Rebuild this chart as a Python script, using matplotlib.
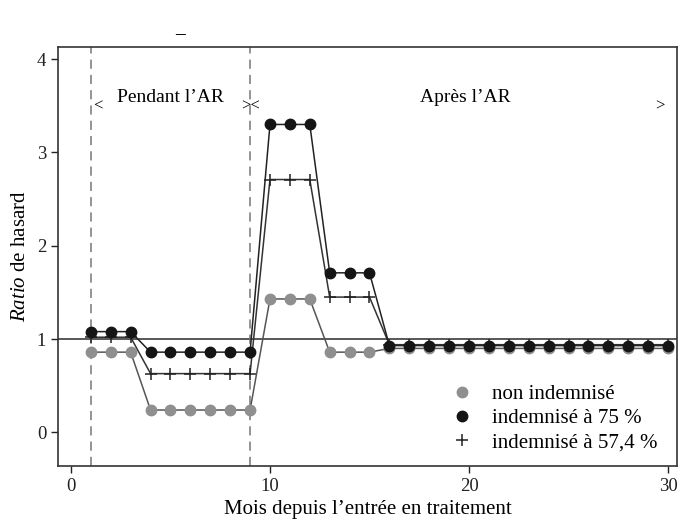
import matplotlib
matplotlib.use("Agg")
import matplotlib.pyplot as plt
import numpy as np

plt.rcParams['font.family'] = ['Liberation Serif', 'DejaVu Serif']
plt.rcParams['mathtext.fontset'] = 'custom'
plt.rcParams['mathtext.it'] = 'Liberation Serif:italic'
plt.rcParams['mathtext.rm'] = 'Liberation Serif'

months = list(range(1, 31))
non_indemnise = [0.86]*3 + [0.24]*6 + [1.43]*3 + [0.86]*3 + [0.90]*15
indemnise_75 = [1.08]*3 + [0.86]*6 + [3.30]*3 + [1.71]*3 + [0.93]*15
indemnise_574 = [1.02]*3 + [0.63]*6 + [2.71]*3 + [1.45]*3 + [0.94]*15

labels = ["non indemnisé", "indemnisé à 75 %", "indemnisé à 57,4 %"]
xticks = [0, 10, 20, 30]
yticks = [0, 1, 2, 3, 4]

fig = plt.figure(figsize=(6.8, 5.24), dpi=100)
ax = fig.add_axes([0.0853, 0.1107, 0.9103, 0.7996])

ax.axhline(1, color='#2a2a2a', lw=1.1, zorder=1)
for xv in (1, 9):
    ax.axvline(xv, color='#777777', lw=1.1, ls=(0, (6, 4)), zorder=1)

ax.plot(months, non_indemnise, color='#555555', lw=1.1, marker='o', ms=7.5,
        mfc='#8f8f8f', mec='#8f8f8f', label=labels[0], zorder=3)
ax.plot(months, indemnise_75, color='#222222', lw=1.1, marker='o', ms=7.5,
        mfc='#151515', mec='#151515', label=labels[1], zorder=4)
ax.plot(months, indemnise_574, color='#333333', lw=1.1, marker='+', ms=9,
        mew=1.1, mec='#222222', label=labels[2], zorder=2)

ax.set_xlim(-0.65, 30.45)
ax.set_ylim(-0.36, 4.13)
ax.set_xticks(xticks)
ax.set_yticks(yticks)
ax.tick_params(direction='out', length=5, width=1, labelsize=13.5, colors='#222222')
for s in ax.spines.values():
    s.set_color('#333333')
    s.set_linewidth(1.2)

ax.set_xlabel("Mois depuis l\u2019entrée en traitement", fontsize=15, labelpad=4)
ax.set_ylabel(r"$\mathit{Ratio}$ de hasard", fontsize=15, labelpad=5)

ax.text(5.0, 3.59, "Pendant l\u2019AR", ha='center', va='center', fontsize=14)
ax.text(19.8, 3.59, "Après l\u2019AR", ha='center', va='center', fontsize=14)
ax.text(1.1, 3.49, "<", ha='left', va='center', fontsize=12)
ax.text(9, 3.49, "><", ha='center', va='center', fontsize=12)
ax.text(29.8, 3.49, ">", ha='right', va='center', fontsize=12)

leg = ax.legend(loc='lower left', bbox_to_anchor=(0.640, 0.033), frameon=False,
                fontsize=15, handlelength=0.75, handletextpad=1.05,
                labelspacing=0.22, borderpad=0, borderaxespad=0)
for h in leg.legend_handles:
    h.set_linestyle('None')

fig.text(0.265, 0.925, "\u2013", fontsize=14, fontweight='bold', ha='center')

fig.savefig("out.png", dpi=100)
